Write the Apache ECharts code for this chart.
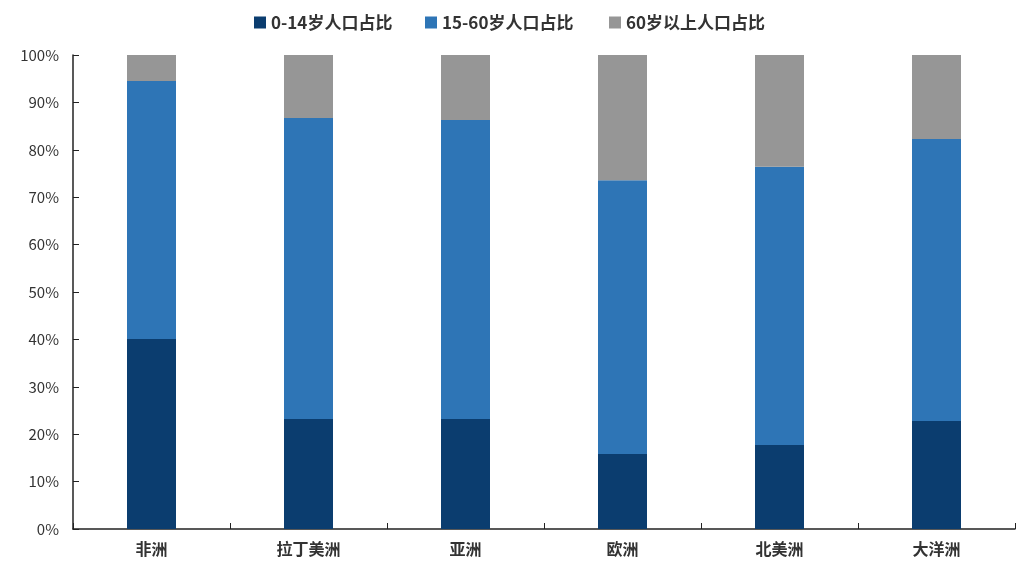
<!DOCTYPE html>
<html><head><meta charset="utf-8">
<script src="https://cdn.jsdelivr.net/npm/echarts@6/dist/echarts.min.js"></script>
<style>html,body{margin:0;padding:0;background:#fff}#c{width:1028px;height:564px}</style>
</head><body><div id="c"></div>
<script>
var categories = ['非洲','拉丁美洲','亚洲','欧洲','北美洲','大洋洲'];
var age0_14 = [40.1, 23.2, 23.2, 15.8, 17.7, 22.8];
var age15_60 = [54.4, 63.5, 63.1, 57.8, 58.7, 59.5];
var age60p = [5.5, 13.3, 13.7, 26.4, 23.6, 17.7];
var seriesNames = ['0-14岁人口占比','15-60岁人口占比','60岁以上人口占比'];
var font = '"Noto Sans CJK SC", "Noto Sans", sans-serif';
var legendLefts = [249, 420, 604];
var chart = echarts.init(document.getElementById('c'));
chart.setOption({
  animation:false,
  legend:seriesNames.map(function(n,i){
    return {top:9,left:legendLefts[i],itemWidth:12,itemHeight:12,icon:'rect',
      textStyle:{fontFamily:font,fontSize:17,color:'#333',fontWeight:'bold'},
      data:[n]};
  }),
  grid:{left:73,right:13,top:55,bottom:35},
  xAxis:{type:'category',data:categories,
    axisLine:{lineStyle:{color:'#222',width:1.5}},
    axisTick:{show:true,inside:true,length:6,lineStyle:{color:'#222'}},
    axisLabel:{fontFamily:font,fontSize:16,color:'#333',fontWeight:'bold',margin:12}},
  yAxis:{type:'value',min:0,max:100,interval:10,
    axisLine:{show:true,lineStyle:{color:'#222',width:1.5}},
    axisTick:{show:true,inside:true,length:6,lineStyle:{color:'#222'}},
    splitLine:{show:false},
    axisLabel:{fontFamily:font,fontSize:15,color:'#333',margin:14,formatter:function(v){return v+'%';}}},
  series:[
    {name:seriesNames[0],type:'bar',stack:'a',barWidth:49,data:age0_14,itemStyle:{color:'#0b3d6f'}},
    {name:seriesNames[1],type:'bar',stack:'a',barWidth:49,data:age15_60,itemStyle:{color:'#2e75b6'}},
    {name:seriesNames[2],type:'bar',stack:'a',barWidth:49,data:age60p,itemStyle:{color:'#969696'}}
  ]
});
</script></body></html>
